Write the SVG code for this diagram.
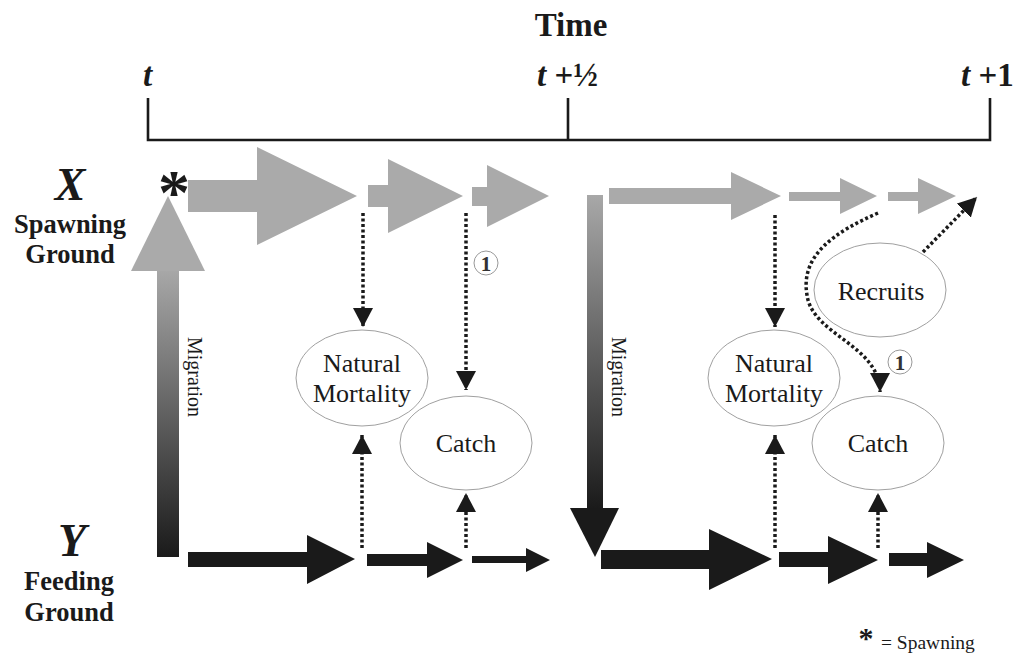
<svg xmlns="http://www.w3.org/2000/svg" width="1023" height="657" viewBox="0 0 1023 657">
<defs>
<style>
.serif{font-family:"Liberation Serif","Times New Roman",serif;}
.title{font-family:"Liberation Serif",serif;font-weight:bold;font-size:33px;fill:#1a1a1a;}
.tlab{font-family:"Liberation Serif",serif;font-weight:bold;font-size:33px;fill:#1a1a1a;}
.axis{fill:none;stroke:#1a1a1a;stroke-width:2.6;}
.big{font-family:"Liberation Serif",serif;font-weight:bold;font-style:italic;font-size:46px;fill:#1a1a1a;}
.side{font-family:"Liberation Serif",serif;font-weight:bold;font-size:26.5px;fill:#1a1a1a;}
.node{fill:#fff;stroke:#a0a0a0;stroke-width:1;}
.ntext{font-family:"Liberation Serif",serif;font-size:26px;fill:#1a1a1a;text-anchor:middle;}
.gray{fill:#aaaaaa;}
.dark{fill:#1a1a1a;}
.dot{fill:none;stroke:#1a1a1a;stroke-width:3.5;stroke-dasharray:3 2.5;}
.num{fill:#fff;stroke:#999;stroke-width:1;}
.numt{font-family:"Liberation Serif",serif;font-size:21px;font-weight:bold;fill:#333;text-anchor:middle;}
.mig{font-family:"Liberation Serif",serif;font-size:20px;fill:#1a1a1a;}
</style>
<linearGradient id="gUp" x1="0" y1="0" x2="0" y2="1">
<stop offset="0" stop-color="#a8a8a8"/>
<stop offset="1" stop-color="#1a1a1a"/>
</linearGradient>
<marker id="ah" markerUnits="userSpaceOnUse" markerWidth="20" markerHeight="20" refX="19" refY="10" orient="auto">
<path d="M0,0 L19,10 L0,20 z" fill="#1a1a1a"/>
</marker>
</defs>
<rect width="1023" height="657" fill="#fff"/>

<g id="timeline">
<text class="title" x="571" y="36" text-anchor="middle">Time</text>
<text class="tlab" x="143" y="86"><tspan font-style="italic">t</tspan></text>
<text class="tlab" x="537" y="86"><tspan font-style="italic">t</tspan> +½</text>
<text class="tlab" x="961" y="86"><tspan font-style="italic">t</tspan> +1</text>
<path class="axis" d="M148,98 V140 H990 V98 M568,98 V140"/>
</g>

<g id="label-x">
<text class="big" x="70" y="200" text-anchor="middle">X</text>
<text class="side" x="70" y="233" text-anchor="middle">Spawning</text>
<text class="side" x="70" y="263" text-anchor="middle">Ground</text>
</g>
<g id="label-y">
<text class="big" x="72" y="556" text-anchor="middle">Y</text>
<text class="side" x="69" y="590" text-anchor="middle">Feeding</text>
<text class="side" x="69" y="621" text-anchor="middle">Ground</text>
</g>

<g id="spawning-mark">
<text class="serif" x="174" y="214" font-size="64" font-weight="bold" text-anchor="middle" fill="#1a1a1a">*</text>
</g>

<g id="connectors">
<!-- gray spawning-ground arrows -->
<polygon class="gray" points="188,180 257,180 257,147 357,196 257,245 257,212 188,212"/>
<polygon class="gray" points="368,185 388,185 388,159 463,196 388,233 388,207 368,207"/>
<polygon class="gray" points="472,187 487,187 487,165 549,196 487,227 487,206 472,206"/>
<polygon class="gray" points="609,188 731,188 731,172 781,196 731,220 731,204 609,204"/>
<polygon class="gray" points="789,192 840,192 840,178 877,196 840,214 840,201 789,201"/>
<polygon class="gray" points="888,192 918,192 918,178 956,196 918,214 918,201 888,201"/>
<!-- black feeding-ground arrows -->
<polygon class="dark" points="188,552 307,552 307,535 355,559 307,584 307,567 188,567"/>
<polygon class="dark" points="367,554 427,554 427,542 463,560 427,578 427,566 367,566"/>
<polygon class="dark" points="472,556 526,556 526,548 550,560 526,572 526,563 472,563"/>
<polygon class="dark" points="601,550 709,550 709,529 772,559 709,590 709,569 601,569"/>
<polygon class="dark" points="779,552 828,552 828,536 878,560 828,584 828,567 779,567"/>
<polygon class="dark" points="889,553 927,553 927,542 964,560 927,578 927,566 889,566"/>
<!-- migration arrows -->
<rect x="157" y="270" width="22" height="287" fill="url(#gUp)"/>
<polygon class="gray" points="131,271 205,271 168,196"/>
<rect x="587" y="195" width="16" height="314" fill="url(#gUp)"/>
<polygon class="dark" points="570,508 619,508 595,557"/>
<text class="mig" transform="translate(188,337) rotate(90)">Migration</text>
<text class="mig" transform="translate(612,337) rotate(90)">Migration</text>
<!-- dotted flows -->
<path class="dot" d="M363,213 V327" marker-end="url(#ah)"/>
<path class="dot" d="M466,213 V390" marker-end="url(#ah)"/>
<path class="dot" d="M362,548 V435" marker-end="url(#ah)"/>
<path class="dot" d="M466,548 V493" marker-end="url(#ah)"/>
<path class="dot" d="M775,215 V327" marker-end="url(#ah)"/>
<path class="dot" d="M878,548 V493" marker-end="url(#ah)"/>
<path class="dot" d="M775,548 V435" marker-end="url(#ah)"/>
<path class="dot" d="M878,213 C835,232 800,255 807,295 C812,335 880,345 880,392" marker-end="url(#ah)"/>
<path class="dot" d="M923,252 L977,197" marker-end="url(#ah)"/>
<circle class="num" cx="486" cy="263" r="12"/>
<text class="numt" x="486" y="270.5">1</text>
<circle class="num" cx="900" cy="362" r="12"/>
<text class="numt" x="900" y="369.5">1</text>
</g>

<g id="natural-mortality-1">
<ellipse class="node" cx="362" cy="378" rx="66" ry="48"/>
<text class="ntext" x="362" y="372">Natural</text>
<text class="ntext" x="362" y="402">Mortality</text>
</g>
<g id="catch-1">
<ellipse class="node" cx="466" cy="443" rx="66" ry="47"/>
<text class="ntext" x="466" y="452">Catch</text>
</g>
<g id="natural-mortality-2">
<ellipse class="node" cx="774" cy="378" rx="66" ry="48"/>
<text class="ntext" x="774" y="372">Natural</text>
<text class="ntext" x="774" y="402">Mortality</text>
</g>
<g id="catch-2">
<ellipse class="node" cx="878" cy="443" rx="66" ry="47"/>
<text class="ntext" x="878" y="452">Catch</text>
</g>
<g id="recruits">
<ellipse class="node" cx="880" cy="290" rx="66" ry="47"/>
<text class="ntext" x="881" y="300">Recruits</text>
</g>

<g id="legend">
<text class="serif" x="866" y="648" font-size="30" font-weight="bold" text-anchor="middle" fill="#1a1a1a">*</text>
<text class="serif" x="881" y="649" font-size="19.5" fill="#1a1a1a">= Spawning</text>
</g>
</svg>
